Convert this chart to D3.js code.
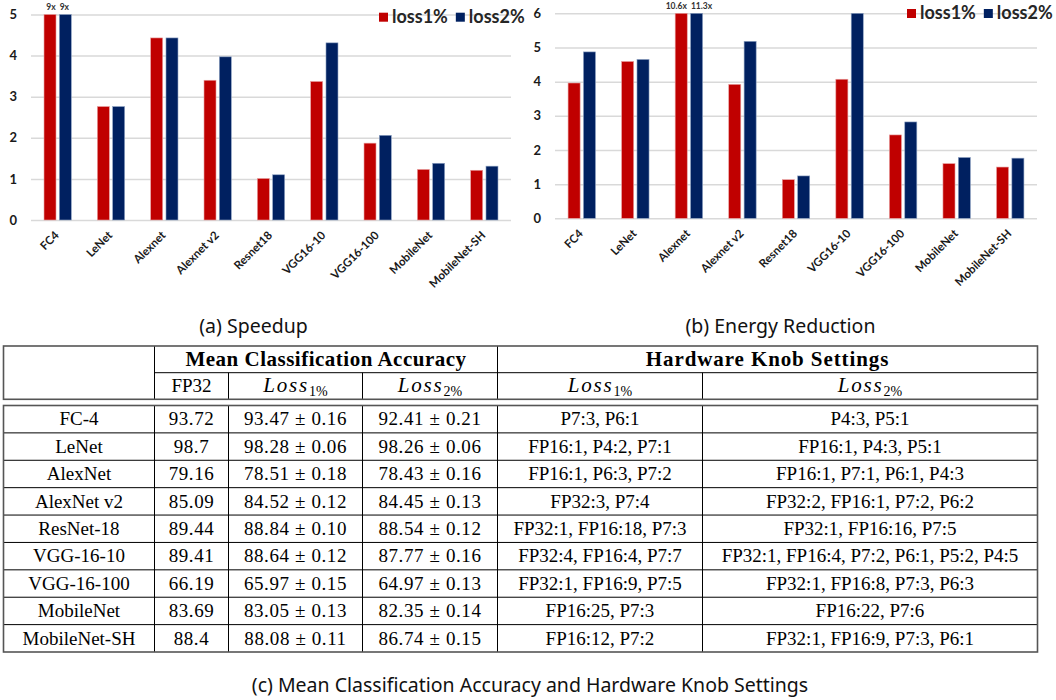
<!DOCTYPE html>
<html>
<head>
<meta charset="utf-8">
<script src="https://cdn.jsdelivr.net/npm/d3@7/dist/d3.min.js"></script>
<style>
  html, body { margin: 0; padding: 0; background: #fff; }
  svg { display: block; }
</style>
</head>
<body>
<svg id="fig" width="1056" height="700"></svg>
<script>
// ---------------- DATA ----------------
const models = ["FC4", "LeNet", "Alexnet", "Alexnet v2", "Resnet18", "VGG16-10", "VGG16-100", "MobileNet", "MobileNet-SH"];
const seriesNames = ["loss1%", "loss2%"];
const seriesColors = ["#C00000", "#002060"];

const speedupLoss1 = [9, 2.76, 4.43, 3.40, 1.01, 3.37, 1.87, 1.23, 1.21];
const speedupLoss2 = [9, 2.76, 4.43, 3.97, 1.10, 4.31, 2.06, 1.38, 1.31];
const speedupTicks = [0, 1, 2, 3, 4, 5];

const energyLoss1 = [3.96, 4.59, 10.6, 3.92, 1.13, 4.07, 2.44, 1.60, 1.50];
const energyLoss2 = [4.87, 4.65, 11.3, 5.18, 1.24, 6.00, 2.82, 1.78, 1.76];
const energyTicks = [0, 1, 2, 3, 4, 5, 6];

const captionA = "(a) Speedup";
const captionB = "(b) Energy Reduction";
const captionC = "(c) Mean Classification Accuracy and Hardware Knob Settings";

const tableModels = ["FC-4", "LeNet", "AlexNet", "AlexNet v2", "ResNet-18", "VGG-16-10", "VGG-16-100", "MobileNet", "MobileNet-SH"];
const fp32Acc = ["93.72", "98.7", "79.16", "85.09", "89.44", "89.41", "66.19", "83.69", "88.4"];
const loss1Acc = ["93.47 ± 0.16", "98.28 ± 0.06", "78.51 ± 0.18", "84.52 ± 0.12", "88.84 ± 0.10", "88.64 ± 0.12", "65.97 ± 0.15", "83.05 ± 0.13", "88.08 ± 0.11"];
const loss2Acc = ["92.41 ± 0.21", "98.26 ± 0.06", "78.43 ± 0.16", "84.45 ± 0.13", "88.54 ± 0.12", "87.77 ± 0.16", "64.97 ± 0.13", "82.35 ± 0.14", "86.74 ± 0.15"];
const loss1Knobs = ["P7:3, P6:1", "FP16:1, P4:2, P7:1", "FP16:1, P6:3, P7:2", "FP32:3, P7:4", "FP32:1, FP16:18, P7:3", "FP32:4, FP16:4, P7:7", "FP32:1, FP16:9, P7:5", "FP16:25, P7:3", "FP16:12, P7:2"];
const loss2Knobs = ["P4:3, P5:1", "FP16:1, P4:3, P5:1", "FP16:1, P7:1, P6:1, P4:3", "FP32:2, FP16:1, P7:2, P6:2", "FP32:1, FP16:16, P7:5", "FP32:1, FP16:4, P7:2, P6:1, P5:2, P4:5", "FP32:1, FP16:8, P7:3, P6:3", "FP16:22, P7:6", "FP32:1, FP16:9, P7:3, P6:1"];
const groupHeaders = ["Mean Classification Accuracy", "Hardware Knob Settings"];
const subHeaders = [["FP32", ""], ["Loss", "1%"], ["Loss", "2%"], ["Loss", "1%"], ["Loss", "2%"]];

// ---------------- DRAW ----------------
const svg = d3.select("#fig");
const chartFont = "Lato, 'Open Sans', sans-serif";
const serif = "'Liberation Serif', 'Times New Roman', serif";
const capFont = "'Noto Sans', 'Open Sans', sans-serif";

function barChart(cfg) {
  const g = svg.append("g").attr("transform", `translate(${cfg.left},0)`);
  const yMax = d3.max(cfg.ticks);
  const x0 = d3.scaleBand().domain(models).range([0, cfg.width]).paddingInner(0.488).paddingOuter(0.244);
  const x1 = d3.scaleBand().domain([0, 1]).range([0, x0.bandwidth()]).paddingInner(0.216);
  const y = d3.scaleLinear().domain([0, yMax]).range([cfg.bottom, cfg.top]);

  const axis = g.append("g")
    .call(d3.axisLeft(y).tickValues(cfg.ticks).tickSize(-cfg.width).tickPadding(14).tickFormat(d3.format("d")));
  axis.select(".domain").remove();
  axis.selectAll(".tick line").attr("stroke", "#d9d9d9").attr("stroke-width", 1.5);
  axis.selectAll(".tick text").attr("font-family", chartFont).attr("font-weight", 700)
    .attr("font-size", 13).attr("fill", "#1a1a1a");

  const series = [cfg.s1, cfg.s2];
  series.forEach((vals, si) => {
    g.selectAll(null).data(models).enter().append("rect")
      .attr("x", d => x0(d) + x1(si))
      .attr("width", x1.bandwidth())
      .attr("y", (d, i) => y(Math.min(vals[i], yMax)))
      .attr("height", (d, i) => y(0) - y(Math.min(vals[i], yMax)))
      .attr("fill", seriesColors[si])
      .attr("stroke", si === 0 ? "#e8a0a0" : "#8fa3c4").attr("stroke-width", 0.6);
    // labels for clipped bars
    g.selectAll(null).data(models.filter((d, i) => vals[i] > yMax)).enter().append("text")
      .attr("x", d => x0(d) + x0.bandwidth() / 2 + (si === 0 ? -2 : 2))
      .attr("y", y(yMax) - 4.5)
      .attr("text-anchor", si === 0 ? "end" : "start")
      .attr("font-family", chartFont).attr("font-weight", 700).attr("font-size", 8.5)
      .attr("fill", "#333")
      .text(d => vals[models.indexOf(d)] + "x");
  });

  // x labels
  g.selectAll(null).data(models).enter().append("text")
    .attr("transform", d => `translate(${x0(d) + x0.bandwidth() / 2 + 2},${cfg.bottom + 16}) rotate(-45)`)
    .attr("text-anchor", "end")
    .attr("font-family", chartFont).attr("font-weight", 700).attr("font-size", 11.5)
    .attr("fill", "#1a1a1a")
    .text(d => d);

  // legend
  const lg = svg.append("g").attr("transform", `translate(${cfg.legendX},${cfg.legendY})`);
  let lx = 0;
  seriesNames.forEach((name, si) => {
    lg.append("rect").attr("x", lx).attr("y", 0).attr("width", 9).attr("height", 9).attr("fill", seriesColors[si]);
    const t = lg.append("text").attr("x", lx + 13).attr("y", 10)
      .attr("font-family", chartFont).attr("font-weight", 700).attr("font-size", 18)
      .attr("fill", "#262626").text(name);
    lx += 13 + t.node().getComputedTextLength() + 8;
  });

  // caption
  svg.append("text").attr("x", cfg.capX).attr("y", 333).attr("text-anchor", "middle")
    .attr("font-family", capFont).attr("font-size", 19.5).attr("fill", "#111").text(cfg.caption);
}

barChart({ left: 31, width: 480, top: 14.5, bottom: 220, ticks: speedupTicks, s1: speedupLoss1, s2: speedupLoss2,
  legendX: 379, legendY: 12.7, caption: captionA, capX: 253.5 });
barChart({ left: 555, width: 482, top: 13.3, bottom: 218.3, ticks: energyTicks, s1: energyLoss1, s2: energyLoss2,
  legendX: 907, legendY: 9, caption: captionB, capX: 780.5 });

// ---------------- TABLE ----------------
const colEdges = [3.5, 154.5, 228.5, 362.5, 497.5, 702.5, 1037.5];
const headTop = 346, headMid = 372.7, headBot = 399.3;
const bodyTop = 405.5, bodyBot = 652;
const rowY = d3.scaleBand().domain(d3.range(tableModels.length)).range([bodyTop, bodyBot]);
const tg = svg.append("g");
const lineCol = "#000";

function hline(x1, x2, y) { tg.append("line").attr("x1", x1).attr("x2", x2).attr("y1", y).attr("y2", y).attr("stroke", lineCol).attr("stroke-width", 1); }
function vline(x, y1, y2) { tg.append("line").attr("x1", x).attr("x2", x).attr("y1", y1).attr("y2", y2).attr("stroke", lineCol).attr("stroke-width", 1); }

// header box
hline(colEdges[1], colEdges[6], headMid);
vline(colEdges[1], headTop, headBot);
vline(colEdges[4], headTop, headBot);
[2, 3, 5].forEach(c => vline(colEdges[c], headMid, headBot));
tg.append("rect").attr("x", colEdges[0]).attr("y", headTop).attr("width", colEdges[6] - colEdges[0]).attr("height", headBot - headTop)
  .attr("fill", "none").attr("stroke", "#555").attr("stroke-width", 1.6);

// body box
tableModels.forEach((m, i) => { if (i > 0) hline(colEdges[0], colEdges[6], rowY(i)); });
[1, 2, 3, 4, 5].forEach(c => vline(colEdges[c], bodyTop, bodyBot));
tg.append("rect").attr("x", colEdges[0]).attr("y", bodyTop).attr("width", colEdges[6] - colEdges[0]).attr("height", bodyBot - bodyTop)
  .attr("fill", "none").attr("stroke", "#555").attr("stroke-width", 1.6);

const cx = c => (colEdges[c] + colEdges[c + 1]) / 2;

// group headers
tg.append("text").attr("x", (colEdges[1] + colEdges[4]) / 2).attr("y", (headTop + headMid) / 2 + 6.5)
  .attr("text-anchor", "middle").attr("font-family", serif).attr("font-weight", 700).attr("font-size", 21)
  .attr("letter-spacing", 0.5).text(groupHeaders[0]);
tg.append("text").attr("x", (colEdges[4] + colEdges[6]) / 2).attr("y", (headTop + headMid) / 2 + 6.5)
  .attr("text-anchor", "middle").attr("font-family", serif).attr("font-weight", 700).attr("font-size", 21)
  .attr("letter-spacing", 0.9).text(groupHeaders[1]);

// sub headers
subHeaders.forEach((h, k) => {
  const t = tg.append("text").attr("x", cx(k + 1)).attr("y", (headMid + headBot) / 2 + 6.3)
    .attr("text-anchor", "middle").attr("font-family", serif).attr("font-size", 19).attr("fill", "#000");
  if (h[1] === "") {
    t.text(h[0]);
  } else {
    t.append("tspan").attr("font-style", "italic").attr("font-size", 21).attr("letter-spacing", 1.8).text(h[0]);
    t.append("tspan").attr("font-size", 14).attr("dy", 3.5).text(h[1]);
  }
});

// body cells
const cols = [tableModels, fp32Acc, loss1Acc, loss2Acc, loss1Knobs, loss2Knobs];
cols.forEach((arr, c) => {
  tg.selectAll(null).data(arr).enter().append("text")
    .attr("x", cx(c))
    .attr("y", (d, i) => rowY(i) + rowY.bandwidth() / 2 + 6.3)
    .attr("text-anchor", "middle")
    .attr("font-family", serif).attr("font-size", 19)
    .attr("letter-spacing", (c >= 1 && c <= 3) ? 0.6 : 0)
    .attr("fill", "#000")
    .text(d => d);
});

svg.append("text").attr("x", 530).attr("y", 692).attr("text-anchor", "middle")
  .attr("font-family", capFont).attr("font-size", 19.5).attr("fill", "#111").text(captionC);
</script>
</body>
</html>
